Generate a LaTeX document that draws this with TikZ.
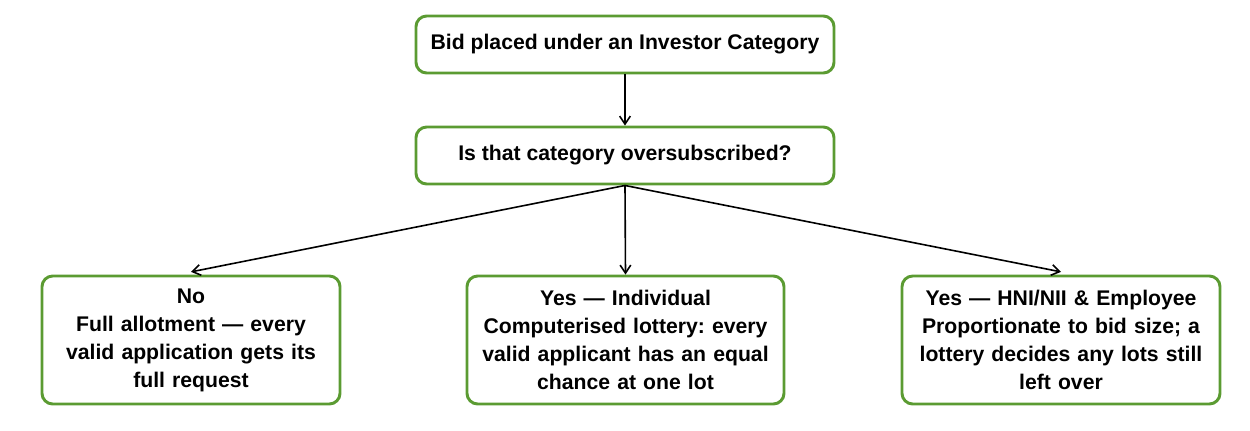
\documentclass[tikz,border=0pt]{standalone}
\usepackage{fontspec}
\setmainfont{Liberation Sans}
\usetikzlibrary{arrows.meta}
\definecolor{grn}{HTML}{5B9B32}
\begin{document}
\frenchspacing
\begin{tikzpicture}[x=0.75pt,y=-0.75pt,
  box/.style={draw=grn,line width=2.2pt,rounded corners=8pt,align=center,
    font=\fontsize{15.9}{21}\selectfont\bfseries,inner sep=0pt},
  arr/.style={-{Straight Barb[length=6pt,width=8pt]},line width=1.2pt}]
\useasboundingbox (0,0) rectangle (1250,430);
\node[box,minimum width=418*0.75pt,minimum height=57*0.75pt] (a) at (625,44.5) {Bid placed under an Investor Category};
\node[box,minimum width=418*0.75pt,minimum height=57*0.75pt] (b) at (625,155.5) {Is that category oversubscribed?};
\node[box,minimum width=298*0.75pt,minimum height=128*0.75pt,text width=296*0.75pt] (l) at (191,340) {No\\Full allotment — every\\valid application gets its\\full request};
\node[box,minimum width=317*0.75pt,minimum height=128*0.75pt,text width=315*0.75pt] (m) at (625.5,340) {Yes — Individual\\Computerised lottery: every\\valid applicant has an equal\\chance at one lot};
\node[box,minimum width=318*0.75pt,minimum height=128*0.75pt,text width=316*0.75pt] (r) at (1061,340) {Yes — HNI/NII \& Employee\\Proportionate to bid size; a\\lottery decides any lots still\\left over};
\draw[arr] (a) -- (b);
\draw[arr] (b.south) -- (m.north);
\draw[arr] (b.south) -- ([yshift=2pt]l.north);
\draw[arr] (b.south) -- ([yshift=2pt]r.north);
\end{tikzpicture}
\end{document}
